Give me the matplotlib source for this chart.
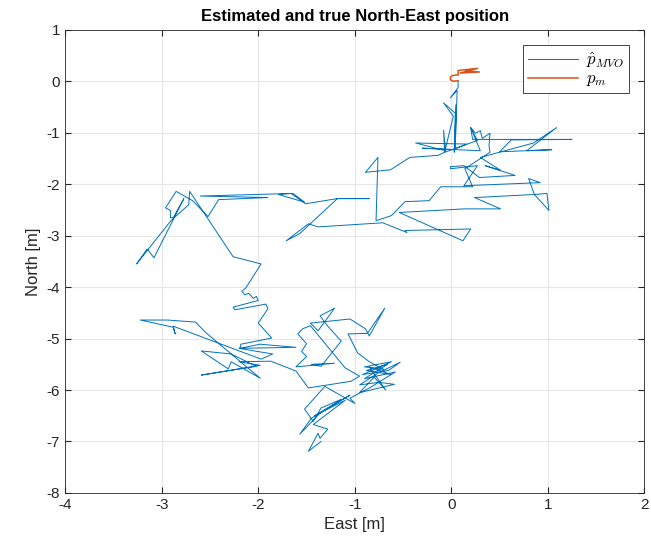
import numpy as np
import matplotlib
matplotlib.use("Agg")
import matplotlib.pyplot as plt

# ----- Data -----
# estimated trajectory, East [m]
east_est = [
    0.07, 0.07, -0.01, 0.06, 0.04, 0.05, 0.03, 0.04, -0.08, 0.02,
    -0.07, -0.08, -0.06, -0.37, 0.16, 0.02, -0.30, 0.30, 0.20, 0.27,
    -0.07, -0.14, -0.43, -0.63, -0.89, -0.76, -0.78, -0.62, -0.48, -0.23,
    -0.11, 0.22, 0.14, 0.40, 0.39, 0.40, 0.32, 0.30, 0.25, 0.20,
    0.22, 1.25, 0.62, 0.50, 1.04, 0.78, 1.09, 0.85, 0.30, 0.51,
    0.35, 0.66, 0.29, 0.13, -0.01, -0.01, 0.27, 0.13, 0.92, 0.80,
    0.86, 0.99, 1.01, 0.86, 0.24, 0.51, 0.13, -0.54, 0.12, 0.20,
    -0.48, -0.46, -0.71, -1.38, -1.48, -1.71, -1.57, -1.18, -0.85, -1.18,
    -1.51, -1.66, -1.79, -1.52, -1.64, -2.60, -1.90, -2.41, -2.52, -2.68,
    -2.85, -2.96, -2.91, -2.91, -2.88, -2.77, -3.08, -3.15, -3.26, -2.90,
    -2.72, -2.71, -2.26, -1.97, -2.13, -2.17, -2.14, -2.10, -2.05, -2.02,
    -2.00, -2.26, -2.24, -1.92, -1.90, -2.00, -1.86, -2.18, -2.19, -1.98,
    -1.61, -2.20, -1.85, -1.97, -2.88, -2.86, -2.88, -3.22, -2.94, -2.65,
    -2.54, -1.98, -2.28, -2.31, -2.59, -2.28, -2.02, -2.59, -1.98, -2.20,
    -1.87, -1.61, -1.48, -1.04, -0.95, -1.10, -1.46, -1.54, -1.59, -1.50,
    -1.55, -1.50, -1.61, -1.21, -1.45, -1.35, -1.14, -1.28, -1.36, -1.21,
    -1.38, -1.46, -1.05, -0.89, -0.85, -0.69, -0.87, -1.07, -0.97, -0.85,
    -0.70, -0.90, -0.62, -0.92, -0.65, -0.53, -0.76, -0.95, -0.75, -0.59,
    -0.95, -0.80, -0.68, -0.85, -0.62, -0.88, -0.66, -0.90, -0.58, -0.84,
    -1.05, -1.00, -1.31, -1.52, -1.43, -1.35, -1.14, -1.36, -1.57, -1.45,
    -1.05, -1.42, -1.10, -1.43, -1.28, -1.36, -1.38, -1.48, -1.35,
]
# estimated trajectory, North [m]
north_est = [
    0.00, -0.12, -0.32, -0.18, -1.30, -0.45, -1.38, -0.62, -0.42, -0.68,
    -1.38, -0.95, -1.35, -1.20, -1.22, -1.33, -1.30, -1.35, -0.90, -1.15,
    -1.38, -1.44, -1.48, -1.72, -1.77, -1.48, -2.71, -2.61, -2.34, -2.32,
    -2.05, -2.05, -1.70, -1.38, -1.25, -1.01, -1.11, -0.96, -1.01, -0.90,
    -1.13, -1.13, -1.14, -1.37, -1.33, -1.35, -0.90, -1.20, -1.48, -1.73,
    -1.64, -1.83, -1.87, -1.64, -1.66, -1.70, -1.64, -2.03, -1.97, -1.89,
    -2.20, -2.18, -2.51, -2.20, -2.26, -2.48, -2.48, -2.55, -3.10, -2.87,
    -2.90, -2.94, -2.75, -2.83, -2.77, -3.10, -2.96, -2.28, -2.28, -2.28,
    -2.38, -2.18, -2.20, -2.35, -2.18, -2.23, -2.26, -2.30, -2.63, -2.32,
    -2.14, -2.46, -2.51, -2.65, -2.65, -2.28, -3.43, -3.26, -3.55, -2.70,
    -2.40, -2.14, -3.41, -3.55, -4.02, -4.08, -4.15, -4.12, -4.22, -4.18,
    -4.26, -4.39, -4.44, -4.33, -4.42, -4.70, -4.99, -5.11, -5.19, -5.11,
    -5.17, -5.19, -5.30, -5.40, -4.76, -4.91, -4.78, -4.64, -4.64, -4.68,
    -4.89, -5.77, -5.45, -5.59, -5.24, -5.30, -5.54, -5.71, -5.52, -5.45,
    -5.44, -5.63, -5.96, -5.83, -5.73, -5.57, -4.75, -4.81, -4.91, -5.10,
    -5.25, -5.35, -5.55, -5.48, -5.50, -5.54, -5.05, -4.76, -4.56, -4.41,
    -4.85, -4.70, -4.62, -4.81, -4.95, -4.41, -4.90, -4.91, -5.28, -5.45,
    -5.60, -5.55, -5.45, -5.70, -5.62, -5.46, -5.67, -5.90, -5.85, -5.89,
    -6.05, -5.75, -6.00, -5.55, -5.70, -5.62, -5.50, -5.78, -5.65, -5.95,
    -6.16, -6.26, -5.93, -6.37, -6.61, -6.35, -6.18, -6.45, -6.86, -6.55,
    -6.10, -6.50, -6.20, -6.67, -6.76, -6.94, -6.84, -7.19, -7.00,
]

# measured position p_m
east_meas = [0.07, 0.02, -0.01, -0.01, 0.01, 0.05, 0.07, 0.07, 0.27, 0.09, 0.29, 0.15]
north_meas = [0.01, 0.00, 0.03, 0.08, 0.11, 0.12, 0.12, 0.21, 0.25, 0.16, 0.18, 0.20]

x_ticks = [-4, -3, -2, -1, 0, 1, 2]
y_ticks = [-8, -7, -6, -5, -4, -3, -2, -1, 0, 1]

# ----- Plot -----
plt.rcParams['font.family'] = ['Liberation Sans', 'DejaVu Sans']
plt.rcParams['mathtext.fontset'] = 'cm'
plt.rcParams['axes.unicode_minus'] = False

fig = plt.figure(figsize=(6.51, 5.52), dpi=100)
ax = fig.add_axes([0.100, 0.107, 0.890, 0.839])

ax.plot(east_est, north_est, color='#0072BD', lw=0.7, label=r'$\hat{p}_{MVO}$')
ax.plot(east_meas, north_meas, color='#D95319', lw=1.1, label=r'$p_m$')

ax.set_xlim(-4, 2)
ax.set_ylim(-8, 1)
ax.set_xticks(x_ticks)
ax.set_yticks(y_ticks)
ax.tick_params(direction='in', length=4, labelsize=11, colors='#262626',
               top=True, right=True)
ax.grid(True, color='#e6e6e6', lw=0.8)
ax.set_axisbelow(True)
for s in ax.spines.values():
    s.set_color('#262626')
    s.set_linewidth(0.6)

ax.set_title('Estimated and true North-East position', fontsize=12,
             fontweight='bold', pad=6)
ax.set_xlabel('East [m]', fontsize=12, color='#262626')
ax.set_ylabel('North [m]', fontsize=12, color='#262626')

leg = ax.legend(loc='upper right', fontsize=12, fancybox=False,
                framealpha=1, edgecolor='#262626', handlelength=3.0,
                borderaxespad=0.9, labelspacing=0.1, borderpad=0.3,
                handletextpad=0.5)
leg.get_frame().set_linewidth(0.6)

fig.savefig('out.png', dpi=100)
